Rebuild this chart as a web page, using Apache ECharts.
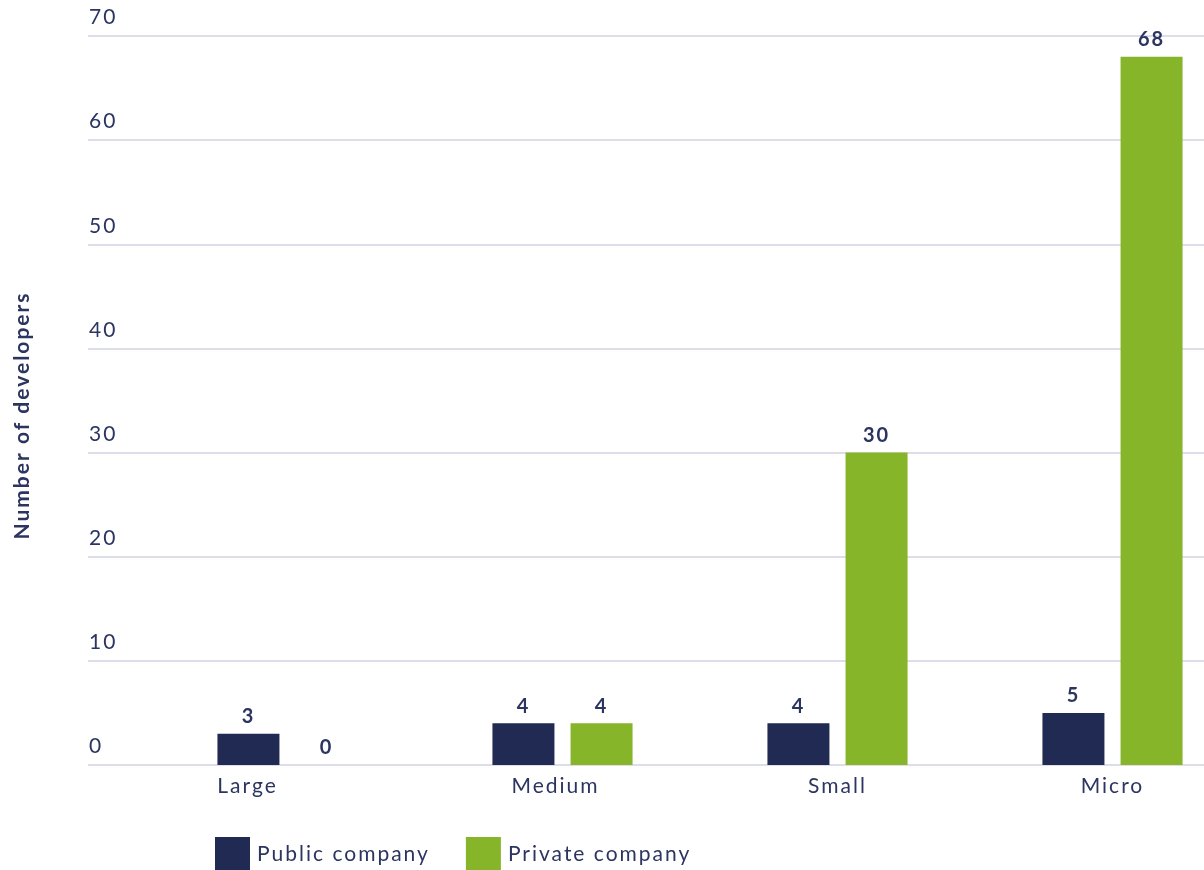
<!DOCTYPE html>
<html>
<head>
<meta charset="utf-8">
<script src="https://cdn.jsdelivr.net/npm/echarts@6/dist/echarts.min.js"></script>
<style>
  html, body { margin: 0; padding: 0; background: #fff; }
  #chart { width: 1204px; height: 870px; }
</style>
</head>
<body>
<div id="chart"></div>
<script>
// Developers by company size, split by ownership type
const categories = ['Large', 'Medium', 'Small', 'Micro'];
const publicCompany = [3, 4, 4, 5];
const privateCompany = [0, 4, 30, 68];
const seriesNames = ['Public company', 'Private company'];
const yTicks = { min: 0, max: 70, interval: 10 };

const NAVY = '#212a52';
const GREEN = '#86b52a';
const TEXT = '#2b3560';
const FONT = 'Lato, "Noto Sans", sans-serif';
const TRACKING = '2px';

// Slightly tracked-out lettering: measure and draw text with the same spacing
const measureCtx = document.createElement('canvas').getContext('2d');
measureCtx.letterSpacing = TRACKING;
echarts.setPlatformAPI({
  measureText(text, font) {
    measureCtx.font = font || '12px sans-serif';
    return measureCtx.measureText(text);
  }
});

const chart = echarts.init(document.getElementById('chart'));

// Category labels sit a little left of their bar groups (right padding in px)
const categoryLabelNudge = [80, 14, 0, 0];

const valueLabel = {
  show: true,
  position: 'top',
  distance: 6,
  color: TEXT,
  fontFamily: FONT,
  fontWeight: 'bold',
  fontSize: 20
};

chart.setOption({
  animation: false,
  backgroundColor: '#ffffff',
  legend: {
    left: 215,
    top: 837,
    padding: 0,
    icon: 'rect',
    itemWidth: 35,
    itemHeight: 35,
    itemGap: 36,
    textStyle: { color: TEXT, fontFamily: FONT, fontSize: 21, padding: [0, 0, 0, 2] },
    data: seriesNames
  },
  grid: [
    // background grid: gridlines and value labels
    { left: 88, width: 1116, top: 36, bottom: 105, outerBoundsMode: 'none' },
    // bar grid
    { left: 150, width: 1100, top: 36, bottom: 105, outerBoundsMode: 'none' }
  ],
  xAxis: [
    { gridIndex: 0, type: 'value', min: 0, max: 1, show: false },
    {
      gridIndex: 1,
      type: 'category',
      data: categories.map((c, i) => ({
        value: c,
        textStyle: { padding: [0, categoryLabelNudge[i], 0, 0] }
      })),
      axisLine: { show: false },
      axisTick: { show: false },
      axisLabel: { color: TEXT, fontFamily: FONT, fontSize: 21, margin: 10 }
    }
  ],
  yAxis: [
    {
      gridIndex: 0,
      type: 'value',
      min: yTicks.min,
      max: yTicks.max,
      interval: yTicks.interval,
      axisLine: { show: false },
      axisTick: { show: false },
      splitLine: { lineStyle: { color: '#d3d3e4', width: 1.5 } },
      axisLabel: {
        inside: true,
        margin: 1,
        verticalAlign: 'bottom',
        padding: [0, 0, 7, 0],
        color: TEXT,
        fontFamily: FONT,
        fontSize: 21
      },
      name: 'Number of developers',
      nameLocation: 'middle',
      nameRotate: 90,
      nameGap: 54,
      nameTextStyle: {
        color: TEXT,
        fontFamily: FONT,
        fontWeight: 'bold',
        fontSize: 21,
        padding: [0, 30, 0, 0]
      }
    },
    {
      gridIndex: 1,
      type: 'value',
      min: yTicks.min,
      max: yTicks.max,
      interval: yTicks.interval,
      show: false,
      splitLine: { show: false }
    }
  ],
  series: [
    {
      name: seriesNames[0],
      type: 'bar',
      xAxisIndex: 1,
      yAxisIndex: 1,
      data: publicCompany,
      barWidth: 62,
      barGap: '26%',
      itemStyle: { color: NAVY },
      label: valueLabel
    },
    {
      name: seriesNames[1],
      type: 'bar',
      xAxisIndex: 1,
      yAxisIndex: 1,
      data: privateCompany,
      barWidth: 62,
      itemStyle: { color: GREEN },
      label: valueLabel
    }
  ]
});

// Apply the same tracking to the drawing canvas, then repaint
document.querySelectorAll('#chart canvas').forEach((cv) => {
  cv.getContext('2d').letterSpacing = TRACKING;
});
chart.getZr().painter.refresh(true);
</script>
</body>
</html>
